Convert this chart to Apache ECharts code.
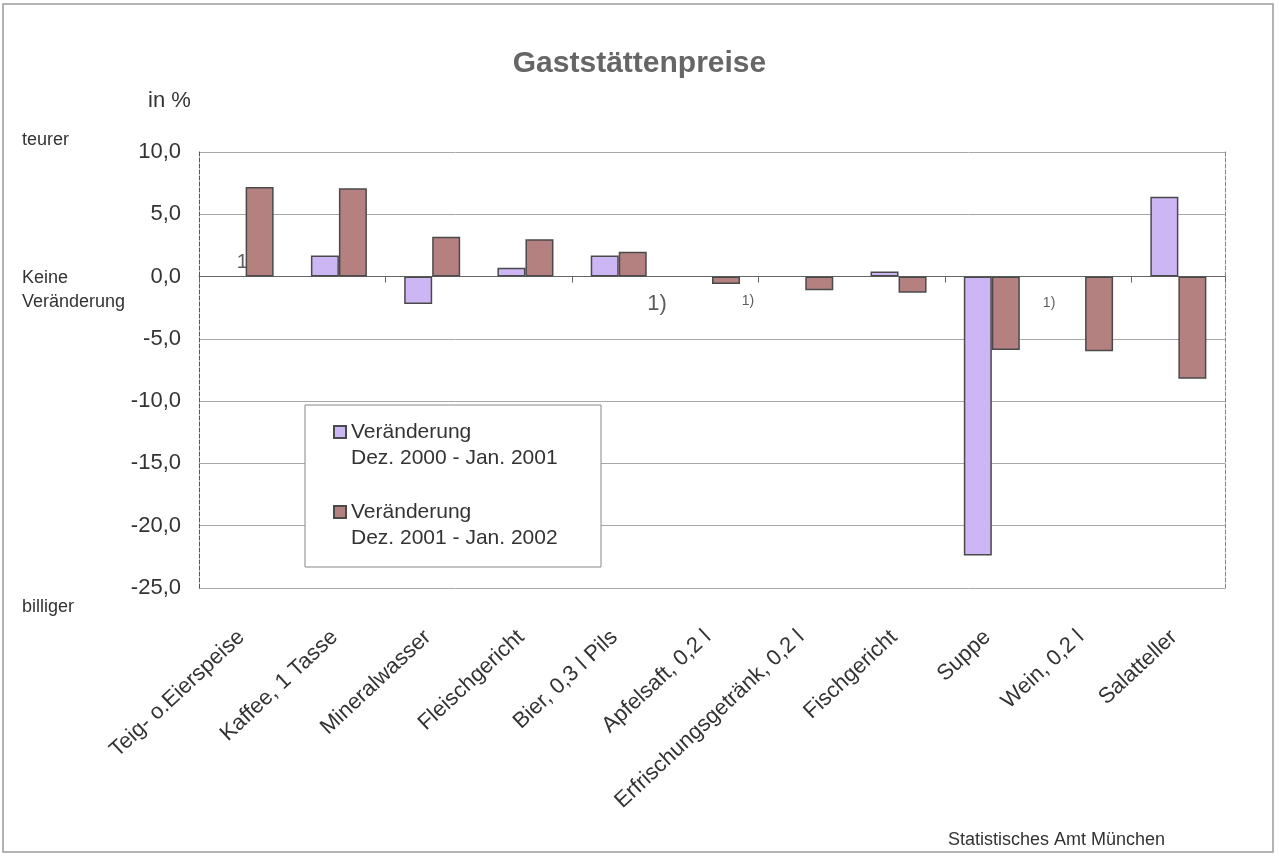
<!DOCTYPE html>
<html>
<head>
<meta charset="utf-8">
<title>Gaststättenpreise</title>
<script src="https://cdn.jsdelivr.net/npm/echarts@6/dist/echarts.min.js"></script>
<style>
  html, body { margin: 0; padding: 0; background: #fff; }
  #chart { width: 1279px; height: 856px; }
</style>
</head>
<body>
<div id="chart"></div>
<script>
// categories (x axis)
const categories = ['Teig- o.Eierspeise', 'Kaffee, 1 Tasse', 'Mineralwasser', 'Fleischgericht',
  'Bier, 0,3 l Pils', 'Apfelsaft, 0,2 l', 'Erfrischungsgetränk, 0,2 l', 'Fischgericht',
  'Suppe', 'Wein, 0,2 l', 'Salatteller'];

// change in % (null = no value, marked "1)")
const change2001 = [null, 1.7, -2.2, 0.7, 1.7, null, null, 0.4, -22.4, null, 6.4];
const change2002 = [7.2, 7.1, 3.2, 3.0, 2.0, -0.6, -1.1, -1.3, -5.9, -6.0, -8.2];

const seriesNames = ['Veränderung\nDez. 2000 - Jan. 2001', 'Veränderung\nDez. 2001 - Jan. 2002'];

// y axis ticks
const yMin = -25;
const yMax = 10;
const yStep = 5;

// footnote "1)" anchors: [category index, value]
const footnotes = [[0, 1.1], [5, -2.2], [5, -2.0], [9, -2.1]];

const FONT = '"Liberation Sans", Arial, sans-serif';
const chart = echarts.init(document.getElementById('chart'));

// per-footnote look (offset in px, font size)
const noteStyle = [
  { offset: [0, 0], fontSize: 20 },
  { offset: [-55, 0], fontSize: 22 },
  { offset: [36, 0], fontSize: 14 },
  { offset: [-36, 0], fontSize: 14 }
];

const option = {
  animation: false,
  backgroundColor: '#fff',
  textStyle: { fontFamily: FONT },
  title: {
    text: 'Gaststättenpreise',
    left: 'center',
    top: 44,
    textStyle: { fontFamily: FONT, fontSize: 30, fontWeight: 'bold', color: '#666' }
  },
  legend: {
    orient: 'vertical',
    left: 333,
    top: 393,
    padding: 0,
    itemGap: 2,
    itemWidth: 12,
    itemHeight: 12,
    icon: 'rect',
    data: seriesNames,
    formatter: name => '\n' + name,
    textStyle: { fontFamily: FONT, fontSize: 21, lineHeight: 26, color: '#333' }
  },
  grid: { left: 199, right: 54, top: 152, bottom: 268 },
  xAxis: [
    {
      type: 'category',
      data: categories,
      axisLine: { onZero: true, lineStyle: { color: '#666', width: 1 } },
      axisTick: { show: true, length: 6, lineStyle: { color: '#666' } },
      axisLabel: { show: false },
      splitLine: { show: false }
    },
    {
      type: 'category',
      data: categories,
      position: 'bottom',
      axisLine: { show: false },
      axisTick: { show: false },
      axisLabel: {
        rotate: 43,
        margin: 42,
        padding: [0, 6, 0, 0],
        interval: 0,
        fontFamily: FONT,
        fontSize: 22,
        color: '#333'
      }
    }
  ],
  yAxis: [
    {
      type: 'value',
      min: yMin,
      max: yMax,
      interval: yStep,
      axisLine: { show: true, lineStyle: { color: '#555', type: 'dashed', width: 1 } },
      axisTick: { show: false },
      axisLabel: {
        margin: 18,
        fontFamily: FONT,
        fontSize: 22,
        color: '#333',
        formatter: v => v.toFixed(1).replace('.', ',')
      },
      splitLine: { show: true, lineStyle: { color: '#a8a8a8', width: 1 } }
    },
    {
      type: 'value',
      position: 'right',
      min: yMin,
      max: yMax,
      interval: yStep,
      axisLine: { show: true, lineStyle: { color: '#888', type: 'dashed', width: 1 } },
      axisTick: { show: false },
      axisLabel: { show: false },
      splitLine: { show: false }
    }
  ],
  graphic: [
    {
      type: 'rect',
      z: 3,
      shape: { x: 3, y: 4, width: 1270, height: 848 },
      style: { fill: 'none', stroke: '#9a9a9a', lineWidth: 1.5 }
    },
    {
      type: 'rect',
      z: 3,
      shape: { x: 305, y: 405, width: 296, height: 162 },
      style: { fill: '#fff', stroke: '#888', lineWidth: 1 }
    },
    { type: 'text', z: 3, left: 148, top: 90, style: { text: 'in %', fontFamily: FONT, fontSize: 22, fill: '#333' } },
    { type: 'text', z: 3, left: 22, top: 131, style: { text: 'teurer', fontFamily: FONT, fontSize: 18, fill: '#333' } },
    { type: 'text', z: 3, left: 22, top: 266, style: { text: 'Keine\nVeränderung', fontFamily: FONT, fontSize: 18, lineHeight: 24, fill: '#333' } },
    { type: 'text', z: 3, left: 22, top: 598, style: { text: 'billiger', fontFamily: FONT, fontSize: 18, fill: '#333' } },
    { type: 'text', z: 3, left: 948, top: 831, style: { text: 'Statistisches Amt München', fontFamily: FONT, fontSize: 18, fill: '#333' } }
  ],
  series: [
    {
      name: 'notes',
      type: 'scatter',
      z: 1,
      symbolSize: 0,
      silent: true,
      data: footnotes.map((p, i) => ({
        value: p,
        label: {
          show: true,
          position: 'inside',
          formatter: '1)',
          offset: noteStyle[i].offset,
          fontSize: noteStyle[i].fontSize,
          fontFamily: FONT,
          color: '#333'
        }
      }))
    },
    {
      name: seriesNames[0],
      type: 'bar',
      z: 2,
      barWidth: 28,
      barGap: '0%',
      data: change2001,
      itemStyle: { color: '#CDB6F4', borderColor: '#4a4a4a', borderWidth: 1.5 }
    },
    {
      name: seriesNames[1],
      type: 'bar',
      z: 2,
      barWidth: 28,
      barGap: '0%',
      data: change2002,
      itemStyle: { color: '#B58080', borderColor: '#4a4a4a', borderWidth: 1.5 }
    }
  ]
};

chart.setOption(option);
</script>
</body>
</html>
